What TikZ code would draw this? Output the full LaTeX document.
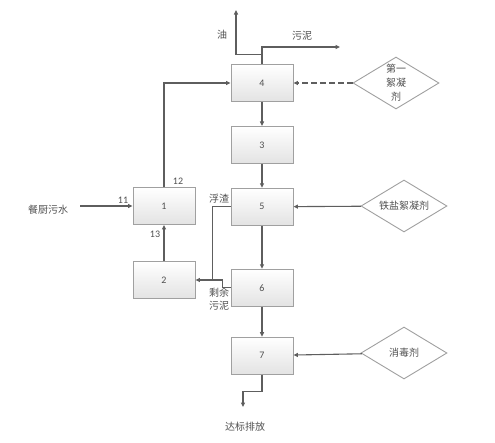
\documentclass[tikz,border=0pt]{standalone}
\usepackage{fontspec}
\newfontfamily\cjk{Noto Sans CJK SC}
\newfontfamily\numfont{Carlito}
\usetikzlibrary{arrows.meta, positioning, shapes.geometric}
\definecolor{linegray}{HTML}{5E5E5E}
\definecolor{boxgray}{HTML}{A0A0A0}
\definecolor{txtgray}{HTML}{505050}

\begin{document}
\begin{tikzpicture}[x=1pt, y=-1pt,
    node distance=24pt,
    every node/.style={font=\cjk\fontsize{10}{14}\selectfont, text=txtgray},
    unit/.style={draw=boxgray, line width=0.9pt, top color=white, bottom color=gray!22,
      minimum width=62pt, minimum height=37pt, inner sep=0pt,
      font=\numfont\fontsize{10}{11}\selectfont},
    dose/.style={diamond, draw=boxgray, line width=0.9pt, fill=white, aspect=1.65,
      minimum width=86pt, minimum height=52pt, inner sep=0pt, align=center},
    num/.style={font=\numfont\fontsize{10}{11}\selectfont, inner sep=1pt},
    arr/.style={-{Triangle[length=4.5pt, width=4pt]}, linegray, line width=1.1pt},
    ln/.style={linegray, line width=1.1pt}
  ]
  \useasboundingbox (0,0) rectangle (495,442);

  % treatment units
  \node[unit] (u4) at (262,83) {4};
  \node[unit, below=of u4] (u3) {3};
  \node[unit, below=of u3] (u5) {5};
  \node[unit, below=43pt of u5] (u6) {6};
  \node[unit, below=30pt of u6] (u7) {7};
  \node[unit] (u1) at (164,206) {1};
  \node[unit] (u2) at (164,280) {2};

  % dosing
  \node[dose] (d1) at (396,83) {第一\\絮凝\\剂};
  \node[dose] (d2) at (404,206) {铁盐絮凝剂};
  \node[dose] (d3) at (404,353) {消毒剂};

  % labels
  \node (feed) at (48,210) {餐厨污水};
  \node[num] (n11) at (123,200) {11};
  \node[num] (n12) at (178,181) {12};
  \node[num] (n13) at (155,234) {13};
  \node (oiltxt) at (222,35) {油};
  \node (sltxt) at (302,36) {污泥};
  \node (scumtxt) at (219,199) {浮渣};
  \node[align=center, font=\cjk\fontsize{10}{13}\selectfont] (restxt) at (219,299) {剩余\\污泥};
  \node (outtxt) at (245,427) {达标排放};

  \coordinate (in) at (80,206);
  \coordinate (oil) at (236,10);
  \coordinate (sludge) at (340,47);
  \coordinate (out) at (243,407);
  \coordinate[left=18pt of u5.west] (scum);

  % flow
  \draw[arr] (in) -- (u1.west);
  \draw[arr] (u1.north) |- (u4.west);
  \draw[arr] (u2) -- (u1);
  \draw[arr] (u4) -- (u3);
  \draw[arr] (u3) -- (u5);
  \draw[arr] (u5) -- (u6);
  \draw[arr] (u6) -- (u7);
  \draw[arr] (u4.north) |- (sludge);
  \draw[arr] (u4.north) ++(0,-10) -| (oil);
  \draw[arr, dash pattern=on 6pt off 3pt] (d1.west) -- (u4.east);
  \draw[arr] (d2) -- (u5);
  \draw[arr] (d3) -- (u7);
  \draw[ln] (u5.west) -- (scum) -- (scum |- u2.east);
  \draw[arr] (u6.west) -- ++(-8,0) |- (u2.east);
  \draw[arr] (u7.south) -- ++(0,17) -| (out);
\end{tikzpicture}
\end{document}
